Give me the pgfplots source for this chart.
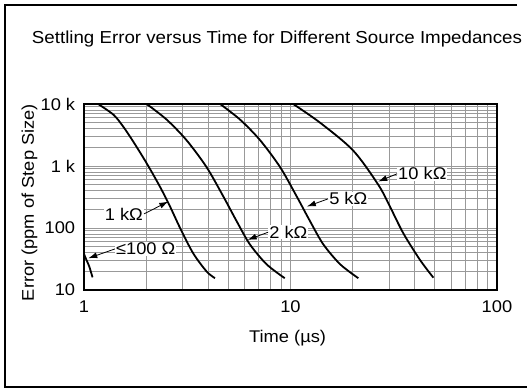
\documentclass[border=0pt]{standalone}
\usepackage{fontspec}
\setmainfont{Liberation Sans}[FakeStretch=1.08]
\usepackage{pgfplots}
\pgfplotsset{compat=1.18}
\usetikzlibrary{arrows.meta}
\begin{document}
\fontsize{17}{20}\selectfont
\begin{tikzpicture}
\path[use as bounding box] (0,0) rectangle (527bp,388bp);
\draw[line width=2bp] (517bp,383bp) -- (5bp,383bp) -- (5bp,1bp) -- (527bp,1bp);
\node at (277bp,348.5bp) {\fontsize{17.4}{20}\selectfont Settling Error versus Time for Different Source Impedances};
\begin{axis}[
  at={(84bp,98bp)}, anchor=south west,
  scale only axis, width=413bp, height=186bp,
  xmode=log, ymode=log,
  xmin=1, xmax=100, ymin=10, ymax=10000,
  xtick={1,10,100}, xticklabels={1,10,100},
  ytick={10,100,1000,10000}, yticklabels={10,100,1 k,10 k},
  major tick length=0pt, minor tick length=0pt,
  grid=both,
  major grid style={black!40, line width=0.8bp},
  minor grid style={black!40, line width=0.8bp},
  axis line style={line width=1.4bp},
  xticklabel style={yshift=-5bp},
  yticklabel style={xshift=-3bp},
  xlabel={Time (µs)}, ylabel={Error (ppm of Step Size)},
  xlabel style={at={(axis description cs:0.493,-0.258)}, anchor=center},
  ylabel style={at={(axis description cs:-0.132,0.47)}, anchor=center},
  clip=true,
]
\addplot[black, line width=1.8bp, smooth] coordinates {
 (1.00,38) (1.03,30) (1.06,24) (1.10,16)};
\addplot[black, line width=1.8bp, smooth] coordinates {
 (1.17,10000) (1.39,6700) (1.55,4300) (1.73,2490) (2.01,1110) (2.33,467)
 (2.61,222) (2.92,100) (3.38,39) (3.93,19.8) (4.31,15.5)};
\addplot[black, line width=1.8bp, smooth] coordinates {
 (2.01,10000) (2.51,5623) (3.13,2630) (3.92,962) (4.72,326) (5.47,131)
 (6.35,54.8) (7.66,26.0) (9.38,15.5)};
\addplot[black, line width=1.8bp, smooth] coordinates {
 (4.56,10000) (5.69,5623) (7.11,2630) (8.90,962) (10.7,326) (12.4,131)
 (14.4,54.8) (17.4,26.0) (21.3,15.5)};
\addplot[black, line width=1.8bp, smooth] coordinates {
 (10.3,10000) (13.9,5000) (20.1,1780) (26.6,500) (30.3,222) (35.2,82)
 (42.4,30.5) (49.2,15.8)};
\node[fill=white, inner sep=1pt] (a) at (axis cs:43.5,748) {10 kΩ};
\draw[-{Latex[length=9bp,width=6bp]}, line width=0.8bp] (a.west) -- (axis cs:26.6,562);
\node[fill=white, inner sep=1pt] (b) at (axis cs:19.05,295) {5 kΩ};
\draw[-{Latex[length=9bp,width=6bp]}, line width=0.8bp] (b.west) -- (axis cs:12.0,222);
\node[fill=white, inner sep=1pt] (c) at (axis cs:9.76,85.5) {2 kΩ};
\draw[-{Latex[length=9bp,width=6bp]}, line width=0.8bp] (c.west) -- (axis cs:6.2,64.3);
\node[fill=white, inner sep=1pt] (d) at (axis cs:1.56,169) {1 kΩ};
\draw[-{Latex[length=9bp,width=6bp]}, line width=0.8bp] (d.east) -- (axis cs:2.56,267);
\node[fill=white, inner sep=1pt] (e) at (axis cs:1.99,45.9) {≤100 Ω};
\draw[-{Latex[length=9bp,width=6bp]}, line width=0.8bp] (e.west) -- (axis cs:1.049,32.5);
\end{axis}
\end{tikzpicture}
\end{document}
